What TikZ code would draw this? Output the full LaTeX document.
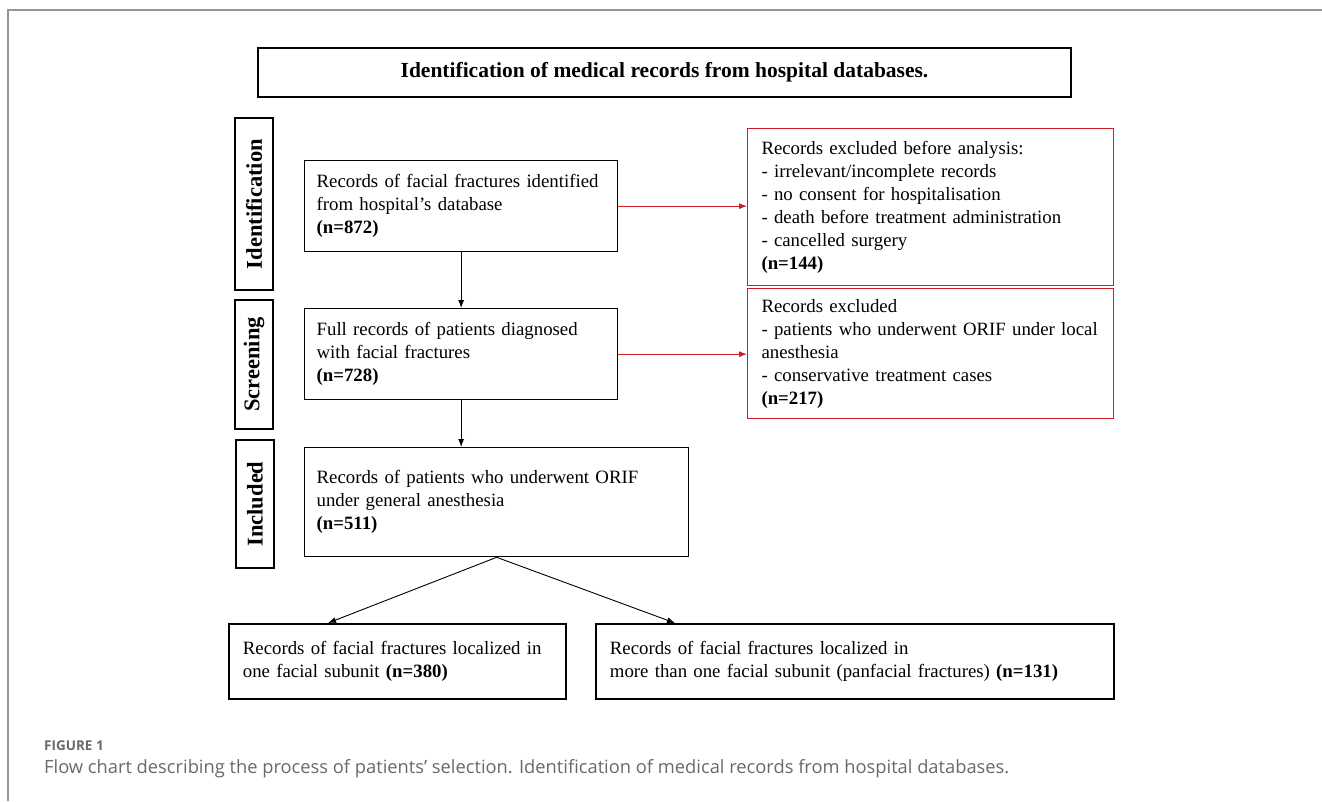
\documentclass[tikz,border=0pt]{standalone}
\usepackage{fontspec}
\setmainfont{Liberation Serif}
\newfontfamily\capfont{Open Sans}
\usetikzlibrary{arrows.meta,calc}
\definecolor{exred}{RGB}{205,30,40}
\definecolor{framegray}{RGB}{150,150,150}
\definecolor{capgray}{RGB}{105,105,105}
\tikzset{
  txt/.style={font=\fontsize{18.8}{23}\selectfont},
  fbox/.style={draw=black, line width=1.3pt, inner xsep=12pt, inner ysep=0pt, align=left, anchor=north west, txt},
  redbox/.style={fbox, draw=exred, line width=1pt, inner xsep=14pt},
  lbl/.style={draw=black, line width=1.3pt, rotate=90, inner sep=0pt, font=\fontsize{22.5}{26}\selectfont\bfseries},
  arr/.style={-{Latex[length=8pt,width=6pt]}, line width=0.9pt, black},
  rarr/.style={-{Latex[length=8pt,width=6pt]}, line width=0.9pt, exred},
}
\begin{document}
\begin{tikzpicture}[x=1pt,y=-1pt]
\useasboundingbox (0,0) rectangle (1322,801);
% frame (top and left)
\draw[framegray, line width=1.5pt] (1322,10) -- (8,10) -- (8,801);

% title
\node[draw=black, line width=2.2pt, minimum width=813pt, minimum height=49pt, inner sep=0pt,
      font=\fontsize{21.5}{24}\selectfont\bfseries] (title) at (664.5,72.5)
  {Identification of medical records from hospital databases.};

% stage labels
\node[lbl, minimum width=172pt, minimum height=38pt] (lid) at (254,204) {Identification};
\node[lbl, minimum width=129pt, minimum height=38pt] (lscr) at (254,364.5) {Screening};
\node[lbl, minimum width=128pt, minimum height=38pt] (linc) at (255,504) {Included};

% main boxes
\node[fbox, text width=289pt, minimum height=91pt] (b1) at (304,160)
  {Records of facial fractures identified\\from hospital’s database\\\textbf{(n=872)}};
\node[fbox, text width=289pt, minimum height=91pt] (b2) at (304,308)
  {Full records of patients diagnosed\\with facial fractures\\\textbf{(n=728)}};
\node[fbox, text width=360pt, minimum height=109pt] (b3) at (304,447)
  {Records of patients who underwent ORIF\\under general anesthesia\\\textbf{(n=511)}};

% exclusion boxes
\node[redbox, text width=338pt, minimum height=157pt] (r1) at (747,128)
  {Records excluded before analysis:\\- irrelevant/incomplete records\\- no consent for hospitalisation\\- death before treatment administration\\- cancelled surgery\\\textbf{(n=144)}};
\node[redbox, text width=338pt, minimum height=130pt] (r2) at (747,288)
  {Records excluded\\- patients who underwent ORIF under local\\anesthesia\\- conservative treatment cases\\\textbf{(n=217)}};

% bottom boxes
\node[fbox, line width=1.8pt, inner xsep=14pt, text width=309pt, minimum height=75pt] (bl) at (228,623)
  {Records of facial fractures localized in\\one facial subunit \textbf{(n=380)}};
\node[fbox, line width=1.8pt, inner xsep=14pt, text width=490pt, minimum height=75pt] (br) at (595,623)
  {Records of facial fractures localized in\\more than one facial subunit (panfacial fractures) \textbf{(n=131)}};

% connectors
\draw[arr] (b1.south) -- (b2.north);
\draw[arr] (b2.south) -- (b2.south |- b3.north);
\draw[rarr] (b1.east) -- (b1.east -| r1.west);
\draw[rarr] (b2.east) -- (b2.east -| r2.west);
\coordinate (tipL) at ($(bl.north west)+(100,0)$);
\coordinate (tipR) at ($(br.north west)+(80,0)$);
\draw[arr] (b3.south) -- (tipL);
\draw[arr] (b3.south) -- (tipR);

% caption
\node[anchor=base west, inner sep=0pt, text=capgray, font=\capfont\fontsize{13.5}{16}\selectfont\bfseries] (figlab) at (44,750) {FIGURE 1};
\node[anchor=base west, inner sep=0pt, text=capgray, font=\capfont\fontsize{18.3}{21}\selectfont] (cap) at (44,773)
  {Flow chart describing the process of patients’ selection. Identification of medical records from hospital databases.};
\end{tikzpicture}
\end{document}
